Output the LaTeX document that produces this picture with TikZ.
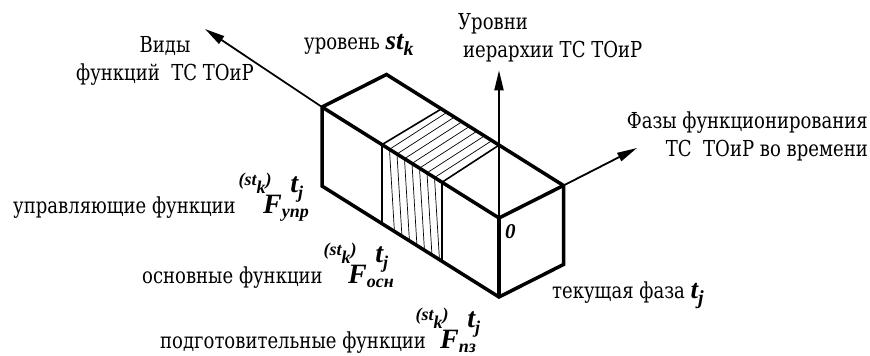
\documentclass[tikz,border=0pt]{standalone}
\usepackage{fontspec}
\setmainfont{Liberation Serif}
\newfontfamily\labelfont{DejaVu Serif}[FakeStretch=0.82]
\usepackage{xcolor}
\usepackage{tikz}
\usetikzlibrary{calc,arrows.meta}
\definecolor{InkBlack}{HTML}{000000}
\newcommand{\Fsym}[1]{%
    \llap{\raisebox{1.0em}{\fontsize{18}{18}\selectfont(st\raisebox{-0.45em}{k})}\kern-0.3em}%
    F\rlap{\kern0.3em\raisebox{0.72em}{t\raisebox{-0.2em}{\fontsize{18}{18}\selectfont j}}}%
    \raisebox{-0.15em}{\fontsize{18}{18}\selectfont #1}%
}
\newcommand{\symsub}[2]{%
    {\rmfamily\bfseries\itshape\fontsize{27}{27}\selectfont #1\raisebox{-0.25em}{\fontsize{20}{20}\selectfont #2}}%
}

\begin{document}
\begin{tikzpicture}[x=1pt,y=-1pt,
        lbl/.style={inner sep=0pt,anchor=base west,font=\labelfont\fontsize{22}{28}\selectfont},
        sym/.style={inner sep=0pt,anchor=base west,font=\fontsize{28}{28}\selectfont\bfseries\itshape},
        edge/.style={InkBlack,line width=3.5pt,line join=miter},
        axis/.style={InkBlack,line width=1.8pt,-{Triangle[length=20pt,width=9pt]}},
        split/.style={InkBlack,line width=1.6pt},
        hatch/.style={InkBlack,line width=0.7pt}]
        \useasboundingbox (0,0) rectangle (870,356);

        % box in oblique axes: x = types of functions, y = phases, z = levels
        \begin{scope}[shift={(499,218)},x={(-177pt,111pt)},y={(64.5pt,32.5pt)},z={(0pt,79pt)}]
            \coordinate (O) at (0,0,0);
            \coordinate (tfl) at (1,0,0);
            \coordinate (tbl) at (1,1,0);
            \coordinate (tbr) at (0,1,0);
            \coordinate (bfl) at (1,0,-1);
            \coordinate (bfr) at (0,0,-1);
            \coordinate (bbr) at (0,1,-1);
            \coordinate (up) at (0,0,1.87);

            % hatched slab: front face
            \foreach \i in {1,...,7}
                \draw[hatch] ({0.322+\i*0.0424},0,0) -- ({0.294+\i*0.0424},0,-1);
            % hatched slab: top face
            \foreach \i in {1,...,7}
                \draw[hatch] ({0.322+\i*0.0424},0,0) -- ({0.362+\i*0.0424},1,0);
            \draw[split] (0.661,0,-1) -- (0.661,0,0) -- (0.69,1,0);
            \draw[split] (0.322,0,-1) -- (0.322,0,0) -- (0.364,1,0);
        \end{scope}

        \coordinate (vid) at (205,29);
        \coordinate (faz) at (637,148);

        \draw[edge] (tfl) -- (tbl) -- (tbr) -- (bbr) -- (bfr) -- (bfl) -- cycle;
        \draw[edge] (tfl) -- (O) -- (tbr);
        \draw[edge] (O) -- (bfr);

        \draw[axis] (O) -- (up);
        \draw[axis] (tfl) -- (vid);
        \draw[axis] (tbr) -- (faz);

        \node[lbl,anchor=north,align=center] (vidy) at (165,36) {Виды\\функций\ \ ТС ТОиР};
        \node[lbl] (lvl) at (304,49) {уровень \symsub{st}{k}};
        \node[lbl,anchor=north west,align=left] (urov) at (458,13) {Уровни\\\hspace*{5pt}иерархии ТС ТОиР};
        \node[lbl,anchor=north east,align=right] (fazy) at (868,112) {Фазы функционирования\\ТС\ \ ТОиР во времени};
        \node[lbl] (cur) at (552,298) {текущая фаза \symsub{t}{j}};
        \node[sym,font=\fontsize{21}{21}\selectfont\bfseries\itshape] (zero) at (505,238) {0};

        \node[lbl] (upr) at (13,213) {управляющие функции};
        \node[sym] (fupr) at (263,213) {\Fsym{упр}};
        \node[lbl] (osn) at (142,283) {основные функции};
        \node[sym] (fosn) at (348,283) {\Fsym{осн}};
        \node[lbl] (pz) at (160,348) {подготовительные функции};
        \node[sym] (fpz) at (440,348) {\Fsym{пз}};
\end{tikzpicture}
\end{document}
